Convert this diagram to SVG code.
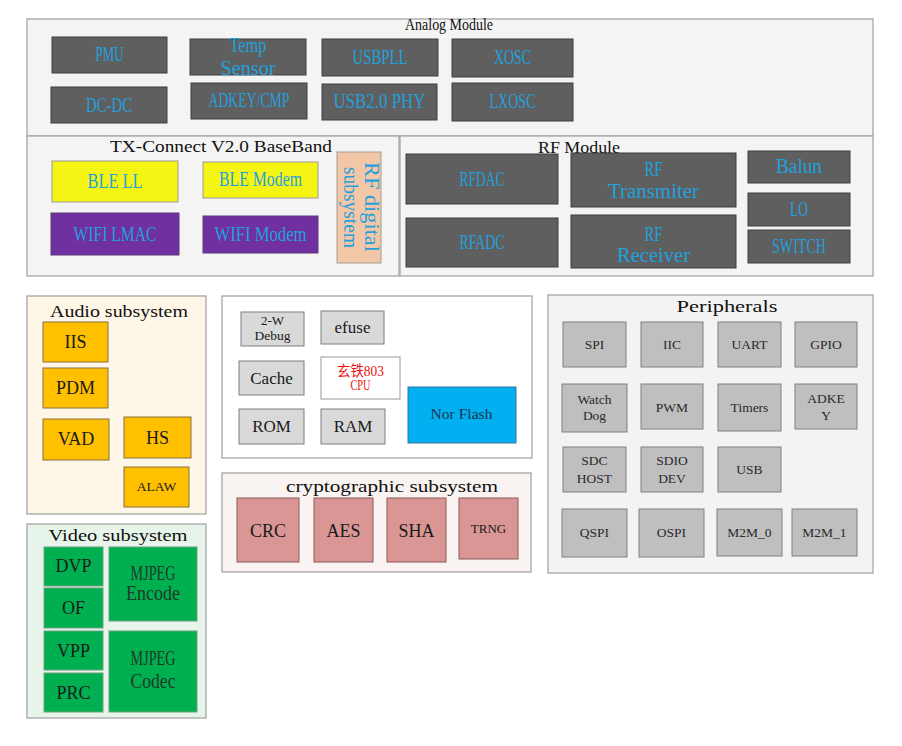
<svg xmlns="http://www.w3.org/2000/svg" width="902" height="746" viewBox="0 0 902 746">
<style>
.ct{stroke:#a6a6a6;stroke-width:1.3}
.dk{fill:#5f5f5f;stroke:#3f3f3f;stroke-width:1}
.yl{fill:#f5f514;stroke:#9a9a9a;stroke-width:1}
.pu{fill:#7030a0;stroke:#5a3a7a;stroke-width:1}
.pe{fill:#f2c7a8;stroke:#a89a90;stroke-width:1}
.or{fill:#ffc000;stroke:#8a7040;stroke-width:1}
.lg{fill:#d9d9d9;stroke:#7f7f7f;stroke-width:1}
.pg{fill:#bfbfbf;stroke:#808080;stroke-width:1}
.gr{fill:#00b050;stroke:#70a080;stroke-width:1}
.rs{fill:#d99694;stroke:#8c5a58;stroke-width:1}
.bf{fill:#00b0f0;stroke:#3a70a0;stroke-width:1}
.bl{font-family:"Liberation Serif",serif;font-size:20px;fill:#1fa1de;text-anchor:middle}
.ti{font-family:"Liberation Serif",serif;font-size:17px;fill:#111;text-anchor:middle}
.tm{font-family:"Liberation Serif",serif;fill:#1a1a1a;text-anchor:middle}
.tp{font-family:"Liberation Serif",serif;font-size:13.5px;fill:#2a2a2a;text-anchor:middle}
.mj{font-family:"Liberation Serif",serif;font-size:20px;fill:#1f3a25;text-anchor:middle}
</style>
<g id="connectors"/>

<g id="analog-module">
<rect class="ct" x="27" y="19" width="846" height="117" fill="#f4f4f4"/>
<text class="ti" x="449" y="30" font-size="13" textLength="88" lengthAdjust="spacingAndGlyphs">Analog Module</text>
</g>
<g id="pmu"><rect class="dk" x="52" y="37" width="115" height="36"/><text class="bl" x="109.5" y="61" textLength="28" lengthAdjust="spacingAndGlyphs">PMU</text></g>
<g id="temp-sensor"><rect class="dk" x="190" y="39" width="116" height="36"/><text class="bl" x="248" y="52" textLength="37" lengthAdjust="spacingAndGlyphs">Temp</text><text class="bl" x="248" y="75" textLength="55" lengthAdjust="spacingAndGlyphs">Sensor</text></g>
<g id="usbpll"><rect class="dk" x="322" y="39" width="116" height="37"/><text class="bl" x="380" y="64" textLength="55" lengthAdjust="spacingAndGlyphs">USBPLL</text></g>
<g id="xosc"><rect class="dk" x="452" y="39" width="121" height="38"/><text class="bl" x="512.5" y="64" textLength="37" lengthAdjust="spacingAndGlyphs">XOSC</text></g>
<g id="dc-dc"><rect class="dk" x="51" y="87" width="116" height="36"/><text class="bl" x="109" y="112" textLength="46" lengthAdjust="spacingAndGlyphs">DC-DC</text></g>
<g id="adkey-cmp"><rect class="dk" x="191" y="83" width="116" height="36"/><text class="bl" x="249" y="107" textLength="81" lengthAdjust="spacingAndGlyphs">ADKEY/CMP</text></g>
<g id="usb2-phy"><rect class="dk" x="322" y="84" width="115" height="36"/><text class="bl" x="379.5" y="108" textLength="92" lengthAdjust="spacingAndGlyphs">USB2.0 PHY</text></g>
<g id="lxosc"><rect class="dk" x="452" y="83" width="121" height="38"/><text class="bl" x="512.5" y="108" textLength="46" lengthAdjust="spacingAndGlyphs">LXOSC</text></g>

<g id="baseband">
<rect class="ct" x="27" y="136" width="372" height="140" fill="#f4f4f4"/>
<text class="ti" x="221" y="152" font-size="18" textLength="222" lengthAdjust="spacingAndGlyphs">TX-Connect V2.0 BaseBand</text>
</g>
<g id="ble-ll"><rect class="yl" x="52" y="161" width="126" height="41"/><text class="bl" x="115" y="188" textLength="55" lengthAdjust="spacingAndGlyphs">BLE LL</text></g>
<g id="ble-modem"><rect class="yl" x="203" y="162" width="115" height="36"/><text class="bl" x="260.5" y="186" textLength="83" lengthAdjust="spacingAndGlyphs">BLE Modem</text></g>
<g id="wifi-lmac"><rect class="pu" x="51" y="213" width="128" height="42"/><text class="bl" x="115" y="241" textLength="83" lengthAdjust="spacingAndGlyphs">WIFI LMAC</text></g>
<g id="wifi-modem"><rect class="pu" x="203" y="216" width="115" height="37"/><text class="bl" x="260.5" y="241" textLength="92" lengthAdjust="spacingAndGlyphs">WIFI Modem</text></g>
<g id="rf-digital"><rect class="pe" x="337" y="152" width="44" height="111"/>
<text class="bl" transform="translate(365,207) rotate(90)" x="0" y="0" textLength="90" lengthAdjust="spacingAndGlyphs">RF digital</text>
<text class="bl" transform="translate(344,207.5) rotate(90)" x="0" y="0" textLength="81" lengthAdjust="spacingAndGlyphs">subsystem</text></g>

<g id="rf-module">
<rect class="ct" x="400" y="136" width="473" height="140" fill="#f4f4f4"/>
<text class="ti" x="579" y="153" textLength="82" lengthAdjust="spacingAndGlyphs">RF Module</text>
</g>
<g id="rfdac"><rect class="dk" x="406" y="154" width="152" height="50"/><text class="bl" x="482" y="186" textLength="45" lengthAdjust="spacingAndGlyphs">RFDAC</text></g>
<g id="rfadc"><rect class="dk" x="406" y="218" width="152" height="49"/><text class="bl" x="482" y="249" textLength="45" lengthAdjust="spacingAndGlyphs">RFADC</text></g>
<g id="rf-transmiter"><rect class="dk" x="571" y="153" width="165" height="54"/><text class="bl" x="653.5" y="176" textLength="18" lengthAdjust="spacingAndGlyphs">RF</text><text class="bl" x="653.5" y="198" textLength="91" lengthAdjust="spacingAndGlyphs">Transmiter</text></g>
<g id="rf-receiver"><rect class="dk" x="571" y="215" width="165" height="53"/><text class="bl" x="653.5" y="241" textLength="18" lengthAdjust="spacingAndGlyphs">RF</text><text class="bl" x="653.5" y="262" textLength="73" lengthAdjust="spacingAndGlyphs">Receiver</text></g>
<g id="balun"><rect class="dk" x="748" y="151" width="102" height="32"/><text class="bl" x="799" y="173" textLength="46" lengthAdjust="spacingAndGlyphs">Balun</text></g>
<g id="lo"><rect class="dk" x="748" y="193" width="102" height="33"/><text class="bl" x="799" y="216" textLength="18" lengthAdjust="spacingAndGlyphs">LO</text></g>
<g id="switch"><rect class="dk" x="748" y="230" width="102" height="33"/><text class="bl" x="799" y="253" textLength="54" lengthAdjust="spacingAndGlyphs">SWITCH</text></g>

<g id="audio-subsystem">
<rect class="ct" x="27" y="296" width="179" height="218" fill="#fef6e7"/>
<text class="ti" x="119" y="317" textLength="138" lengthAdjust="spacingAndGlyphs">Audio subsystem</text>
</g>
<g id="iis"><rect class="or" x="43" y="322" width="65" height="40"/><text class="tm" x="75.5" y="348" font-size="18">IIS</text></g>
<g id="pdm"><rect class="or" x="43" y="368" width="65" height="40"/><text class="tm" x="75.5" y="394" font-size="18">PDM</text></g>
<g id="vad"><rect class="or" x="43" y="419" width="66" height="41"/><text class="tm" x="76" y="445" font-size="18">VAD</text></g>
<g id="hs"><rect class="or" x="124" y="417" width="67" height="41"/><text class="tm" x="157.5" y="444" font-size="18">HS</text></g>
<g id="alaw"><rect class="or" x="124" y="467" width="65" height="40"/><text class="tm" x="156.5" y="491" font-size="13.5">ALAW</text></g>

<g id="cpu-subsystem">
<rect class="ct" x="222" y="296" width="310" height="162" fill="#ffffff"/>
</g>
<g id="two-w-debug"><rect class="lg" x="241" y="312" width="63" height="34"/><text class="tm" x="272.5" y="325" font-size="13">2-W</text><text class="tm" x="272.5" y="340" font-size="13.5">Debug</text></g>
<g id="efuse"><rect class="lg" x="321" y="311" width="63" height="33"/><text class="tm" x="352.5" y="333" font-size="17">efuse</text></g>
<g id="cache"><rect class="lg" x="239" y="361" width="65" height="34"/><text class="tm" x="271.5" y="384" font-size="17">Cache</text></g>
<g id="cpu"><rect x="321" y="357" width="79" height="42" fill="#ffffff" stroke="#9a9a9a"/><text x="360.5" y="375.5" font-family="'Liberation Serif','Noto Sans CJK SC',serif" font-size="15" fill="#ee1111" text-anchor="middle" textLength="47" lengthAdjust="spacingAndGlyphs">玄铁803</text><text x="360.5" y="390" font-family="'Liberation Serif',serif" font-size="15" fill="#ee1111" text-anchor="middle" textLength="20" lengthAdjust="spacingAndGlyphs">CPU</text></g>
<g id="rom"><rect class="lg" x="239" y="409" width="65" height="35"/><text class="tm" x="271.5" y="432" font-size="17">ROM</text></g>
<g id="ram"><rect class="lg" x="321" y="409" width="64" height="35"/><text class="tm" x="353" y="432" font-size="17">RAM</text></g>
<g id="nor-flash"><rect class="bf" x="408" y="387" width="108" height="56"/><text x="461.5" y="419" font-family="'Liberation Serif',serif" font-size="15" fill="#1e3550" text-anchor="middle" textLength="62" lengthAdjust="spacingAndGlyphs">Nor Flash</text></g>

<g id="crypto-subsystem">
<rect class="ct" x="222" y="473" width="309" height="99" fill="#f9f3f1"/>
<text class="ti" x="392" y="492" textLength="212" lengthAdjust="spacingAndGlyphs">cryptographic subsystem</text>
</g>
<g id="crc"><rect class="rs" x="237" y="498" width="62" height="64"/><text class="tm" x="268" y="537" font-size="18">CRC</text></g>
<g id="aes"><rect class="rs" x="314" y="498" width="59" height="64"/><text class="tm" x="343.5" y="537" font-size="18">AES</text></g>
<g id="sha"><rect class="rs" x="387" y="498" width="59" height="64"/><text class="tm" x="416.5" y="537" font-size="18">SHA</text></g>
<g id="trng"><rect class="rs" x="459" y="498" width="59" height="61"/><text class="tm" x="488.5" y="533" font-size="13">TRNG</text></g>

<g id="peripherals">
<rect class="ct" x="548" y="295" width="325" height="278" fill="#f3f3f3"/>
<text class="ti" x="727" y="312" textLength="101" lengthAdjust="spacingAndGlyphs">Peripherals</text>
</g>
<g id="spi"><rect class="pg" x="563" y="322" width="63" height="45"/><text class="tp" x="594.5" y="349">SPI</text></g>
<g id="iic"><rect class="pg" x="641" y="322" width="62" height="45"/><text class="tp" x="672" y="349">IIC</text></g>
<g id="uart"><rect class="pg" x="718" y="322" width="63" height="45"/><text class="tp" x="749.5" y="349">UART</text></g>
<g id="gpio"><rect class="pg" x="795" y="322" width="62" height="45"/><text class="tp" x="826" y="349">GPIO</text></g>
<g id="watchdog"><rect class="pg" x="562" y="384" width="65" height="48"/><text class="tp" x="594.5" y="404">Watch</text><text class="tp" x="594.5" y="420">Dog</text></g>
<g id="pwm"><rect class="pg" x="641" y="384" width="62" height="45"/><text class="tp" x="672" y="412">PWM</text></g>
<g id="timers"><rect class="pg" x="718" y="384" width="63" height="47"/><text class="tp" x="749.5" y="412">Timers</text></g>
<g id="adkey"><rect class="pg" x="795" y="384" width="62" height="45"/><text class="tp" x="826" y="403">ADKE</text><text class="tp" x="826" y="420">Y</text></g>
<g id="sdc-host"><rect class="pg" x="563" y="447" width="63" height="45"/><text class="tp" x="594.5" y="465">SDC</text><text class="tp" x="594.5" y="483">HOST</text></g>
<g id="sdio-dev"><rect class="pg" x="641" y="447" width="62" height="45"/><text class="tp" x="672" y="465">SDIO</text><text class="tp" x="672" y="483">DEV</text></g>
<g id="usb"><rect class="pg" x="718" y="447" width="63" height="45"/><text class="tp" x="749.5" y="474">USB</text></g>
<g id="qspi"><rect class="pg" x="562" y="509" width="65" height="48"/><text class="tp" x="594.5" y="537">QSPI</text></g>
<g id="ospi"><rect class="pg" x="639" y="509" width="65" height="48"/><text class="tp" x="671.5" y="537">OSPI</text></g>
<g id="m2m-0"><rect class="pg" x="717" y="509" width="65" height="47"/><text class="tp" x="749.5" y="537">M2M_0</text></g>
<g id="m2m-1"><rect class="pg" x="792" y="509" width="65" height="47"/><text class="tp" x="824.5" y="537">M2M_1</text></g>

<g id="video-subsystem">
<rect class="ct" x="27" y="524" width="179" height="194" fill="#e6f4ea"/>
<text class="ti" x="118" y="541" textLength="139" lengthAdjust="spacingAndGlyphs">Video subsystem</text>
</g>
<g id="dvp"><rect class="gr" x="44" y="547" width="59" height="39"/><text class="tm" x="73.5" y="572" font-size="18">DVP</text></g>
<g id="of"><rect class="gr" x="44" y="588" width="59" height="40"/><text class="tm" x="73.5" y="614" font-size="18">OF</text></g>
<g id="vpp"><rect class="gr" x="44" y="631" width="59" height="39"/><text class="tm" x="73.5" y="657" font-size="18">VPP</text></g>
<g id="prc"><rect class="gr" x="44" y="673" width="59" height="39"/><text class="tm" x="73.5" y="699" font-size="18">PRC</text></g>
<g id="mjpeg-encode"><rect class="gr" x="109" y="547" width="88" height="74"/><text class="mj" x="153" y="580" textLength="45" lengthAdjust="spacingAndGlyphs">MJPEG</text><text class="mj" x="153" y="600" textLength="54" lengthAdjust="spacingAndGlyphs">Encode</text></g>
<g id="mjpeg-codec"><rect class="gr" x="109" y="631" width="88" height="81"/><text class="mj" x="153" y="665" textLength="45" lengthAdjust="spacingAndGlyphs">MJPEG</text><text class="mj" x="153" y="688" textLength="45" lengthAdjust="spacingAndGlyphs">Codec</text></g>
</svg>
